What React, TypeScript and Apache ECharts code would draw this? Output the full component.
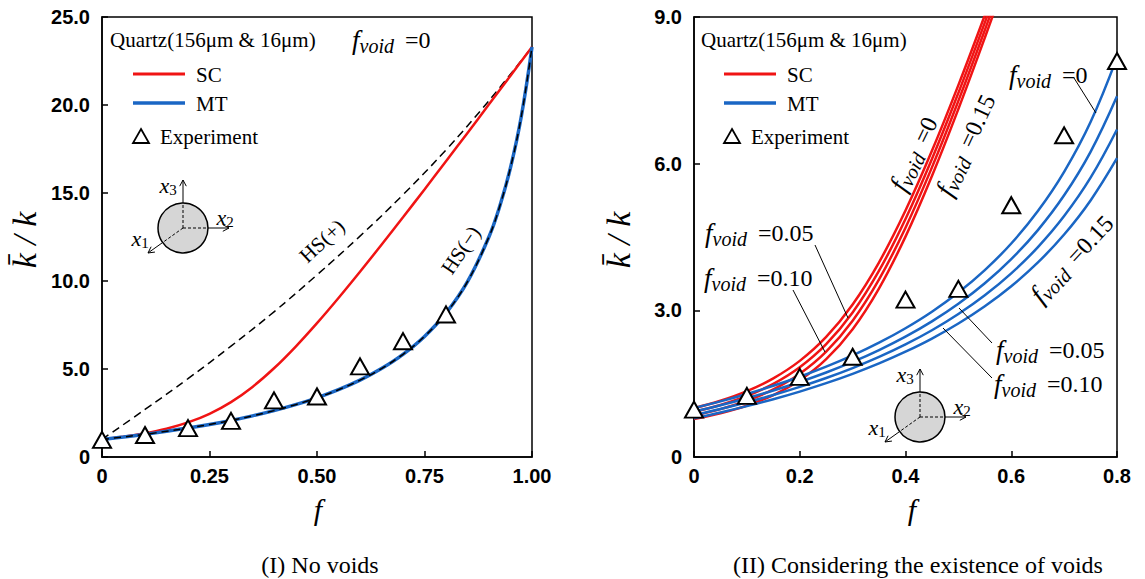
import React, { useEffect, useRef } from "react";
import * as echarts from "echarts";

// ---------- Data ----------
// Panel I: no voids
const fSC = [0, 0.05, 0.1, 0.15, 0.2, 0.25, 0.3, 0.35, 0.4, 0.45, 0.5, 0.55, 0.6, 0.65, 0.7, 0.75, 0.8, 0.85, 0.9, 0.95, 1.0];
const scNoVoid = [1.0, 1.15, 1.347, 1.609, 1.966, 2.456, 3.12, 3.983, 5.041, 6.263, 7.607, 9.037, 10.527, 12.059, 13.62, 15.204, 16.803, 18.415, 20.036, 21.665, 23.3];
const fMT = [0, 0.05, 0.1, 0.15, 0.2, 0.25, 0.3, 0.35, 0.4, 0.45, 0.5, 0.55, 0.6, 0.65, 0.7, 0.75, 0.8, 0.85, 0.9, 0.925, 0.95, 0.975, 1.0];
const mtNoVoid = [1.0, 1.138, 1.29, 1.457, 1.642, 1.848, 2.078, 2.338, 2.634, 2.972, 3.364, 3.823, 4.367, 5.025, 5.833, 6.851, 8.174, 9.962, 12.512, 14.244, 16.445, 19.335, 23.3];
const fHS = [0, 0.1, 0.2, 0.3, 0.4, 0.5, 0.6, 0.7, 0.8, 0.9, 1.0];
const hsUpper = [1.0, 2.7, 4.45, 6.3, 8.25, 10.35, 12.55, 14.9, 17.45, 20.25, 23.3];

// Experiment (both panels)
const fExp = [0, 0.1, 0.2, 0.3, 0.4, 0.5, 0.6, 0.7, 0.8];
const kExp = [0.97, 1.25, 1.64, 2.05, 3.22, 3.44, 5.15, 6.58, 8.1];

// Panel II: with voids (f_void = 0, 0.05, 0.10, 0.15)
const fMTv = [0, 0.05, 0.1, 0.15, 0.2, 0.25, 0.3, 0.35, 0.4, 0.45, 0.5, 0.55, 0.6, 0.65, 0.7, 0.75, 0.8];
const mtVoid0 = [1.0, 1.138, 1.29, 1.457, 1.642, 1.848, 2.078, 2.338, 2.634, 2.972, 3.364, 3.823, 4.367, 5.025, 5.833, 6.851, 8.174];
const mtVoid05 = [0.927, 1.058, 1.202, 1.36, 1.535, 1.728, 1.944, 2.187, 2.461, 2.774, 3.134, 3.553, 4.047, 4.636, 5.353, 6.243, 7.379];
const mtVoid10 = [0.857, 0.982, 1.119, 1.269, 1.434, 1.616, 1.819, 2.046, 2.302, 2.592, 2.924, 3.308, 3.757, 4.288, 4.928, 5.713, 6.699];
const mtVoid15 = [0.791, 0.91, 1.04, 1.182, 1.338, 1.51, 1.701, 1.914, 2.153, 2.422, 2.73, 3.083, 3.493, 3.975, 4.55, 5.248, 6.111];

const fSCv = [0, 0.05, 0.1, 0.15, 0.2, 0.25, 0.3, 0.35, 0.4, 0.45, 0.5, 0.55, 0.6];
const scVoid0 = [1.0, 1.15, 1.347, 1.609, 1.966, 2.456, 3.12, 3.983, 5.041, 6.263, 7.607, 9.037, 10.527];
const scVoid05 = [0.925, 1.065, 1.249, 1.496, 1.836, 2.308, 2.956, 3.811, 4.868, 6.096, 7.447, 8.885, 10.383];
const scVoid10 = [0.85, 0.98, 1.151, 1.382, 1.703, 2.156, 2.788, 3.633, 4.691, 5.924, 7.284, 8.732, 10.237];
const scVoid15 = [0.775, 0.894, 1.052, 1.267, 1.569, 2.001, 2.614, 3.45, 4.508, 5.748, 7.118, 8.575, 10.09];

// Tick labels
const xLabelsI = ["0", "0.25", "0.50", "0.75", "1.00"];
const yLabelsI = ["0", "5.0", "10.0", "15.0", "20.0", "25.0"];
const xLabelsII = ["0", "0.2", "0.4", "0.6", "0.8"];
const yLabelsII = ["0", "3.0", "6.0", "9.0"];

// ---------- Styling ----------
const RED = "#f01414";
const BLUE = "#1a66c4";
const SERIF = "Liberation Serif, Times New Roman, serif";
const SANS = "Liberation Sans, Arial, sans-serif";

const pairs = (xs: number[], ys: number[]) => xs.map((x, i) => [x, ys[i]]);

function makeAxis(grid: number, max: number, interval: number, labels: string[], isX: boolean) {
  return {
    type: "value",
    gridIndex: grid,
    min: 0,
    max,
    interval,
    axisLine: { show: true, onZero: false, lineStyle: { color: "#000", width: 1.5 } },
    axisTick: { show: true, inside: true, length: 6, lineStyle: { color: "#000", width: 1.5 } },
    splitLine: { show: false },
    axisLabel: {
      color: "#000",
      fontFamily: SANS,
      fontWeight: "bold",
      fontSize: 20,
      margin: isX ? 9 : 12,
      formatter: (v: number) => labels[Math.round(v / interval)] ?? "",
    },
  };
}

function lineSeries(xi: number, data: number[][], color: string, width: number, extra: any = {}) {
  return {
    type: "line",
    xAxisIndex: xi,
    yAxisIndex: xi,
    data,
    smooth: 0.4,
    symbol: "none",
    clip: true,
    lineStyle: { color, width, ...(extra.lineStyle || {}) },
    z: extra.z ?? 3,
    silent: true,
  };
}

function expSeries(xi: number) {
  return {
    type: "scatter",
    xAxisIndex: xi,
    yAxisIndex: xi,
    data: pairs(fExp, kExp),
    symbol: "triangle",
    symbolSize: [18, 16],
    itemStyle: { color: "#fff", borderColor: "#000", borderWidth: 2, opacity: 1 },
    z: 10,
    silent: true,
  };
}

const fvRich = {
  f: { fontFamily: SERIF, fontStyle: "italic", fontSize: 27, fill: "#000" },
  s: { fontFamily: SERIF, fontStyle: "italic", fontSize: 20, fill: "#000", padding: [11, 0, 0, 0] },
  e: { fontFamily: SERIF, fontSize: 24, fill: "#000", padding: [0, 0, 0, 5] },
};

function fvText(val: string, x: number, y: number, rotDeg = 0, align = "left") {
  return {
    type: "text",
    x,
    y,
    rotation: (rotDeg * Math.PI) / 180,
    z: 20,
    style: {
      text: `{f|f}{s|void}{e| =${val}}`,
      rich: fvRich,
      align,
      verticalAlign: "middle",
    },
  };
}

function plainText(text: string, x: number, y: number, size: number, opts: any = {}) {
  return {
    type: "text",
    x,
    y,
    rotation: ((opts.rot || 0) * Math.PI) / 180,
    z: 20,
    style: {
      text,
      fontFamily: opts.family || SERIF,
      fontSize: size,
      fontStyle: opts.italic ? "italic" : "normal",
      fill: "#000",
      align: opts.align || "left",
      verticalAlign: "middle",
    },
  };
}

function seg(x1: number, y1: number, x2: number, y2: number, w = 1, dash?: number[]) {
  return {
    type: "line",
    z: 20,
    shape: { x1, y1, x2, y2 },
    style: { stroke: "#000", lineWidth: w, lineDash: dash },
  };
}

function arrowHead(x1: number, y1: number, x2: number, y2: number) {
  const ang = Math.atan2(y2 - y1, x2 - x1);
  const L = 7;
  const a = (28 * Math.PI) / 180;
  return {
    type: "polyline",
    z: 20,
    shape: {
      points: [
        [x2 - L * Math.cos(ang - a), y2 - L * Math.sin(ang - a)],
        [x2, y2],
        [x2 - L * Math.cos(ang + a), y2 - L * Math.sin(ang + a)],
      ],
    },
    style: { stroke: "#000", lineWidth: 1, fill: "none" },
  };
}

function subText(main: string, sub: string, x: number, y: number) {
  return {
    type: "text",
    x,
    y,
    z: 20,
    style: {
      text: `{a|${main}}{b|${sub}}`,
      rich: {
        a: { fontFamily: SERIF, fontStyle: "italic", fontSize: 22, fill: "#000" },
        b: { fontFamily: SERIF, fontSize: 15, fill: "#000", padding: [9, 0, 0, 0] },
      },
      align: "center",
      verticalAlign: "middle",
    },
  };
}

function inset(cx: number, cy: number) {
  const r = 25;
  const ux = -0.814, uy = 0.581;
  const dash = [3, 2];
  return [
    { type: "circle", z: 19, shape: { cx, cy, r }, style: { fill: "#d6d6d6", stroke: "#000", lineWidth: 1.5 } },
    seg(cx, cy, cx, cy - r, 1, dash),
    seg(cx, cy, cx + r, cy, 1, dash),
    seg(cx, cy, cx + ux * r, cy + uy * r, 1, dash),
    seg(cx, cy - r, cx, cy - 48, 1),
    seg(cx + r, cy, cx + 46, cy, 1),
    seg(cx + ux * r, cy + uy * r, cx + ux * 43, cy + uy * 43, 1),
    arrowHead(cx, cy, cx, cy - 48),
    arrowHead(cx, cy, cx + 46, cy),
    arrowHead(cx, cy, cx + ux * 43, cy + uy * 43),
    subText("x", "3", cx - 15, cy - 43),
    subText("x", "2", cx + 42, cy - 11),
    subText("x", "1", cx - 43, cy + 10),
  ];
}

function legend(x0: number, quartzX: number) {
  return [
    plainText("Quartz(156μm & 16μm)", quartzX, 40, 21),
    { type: "line", z: 20, shape: { x1: x0, y1: 74, x2: x0 + 52, y2: 74 }, style: { stroke: RED, lineWidth: 3 } },
    plainText("SC", x0 + 63, 75, 21),
    { type: "line", z: 20, shape: { x1: x0, y1: 103, x2: x0 + 52, y2: 103 }, style: { stroke: BLUE, lineWidth: 3.5 } },
    plainText("MT", x0 + 63, 104, 21),
    {
      type: "polygon",
      z: 20,
      shape: { points: [[x0 + 8, 129], [x0 + 16, 143], [x0, 143]] },
      style: { fill: "#fff", stroke: "#000", lineWidth: 1.8 },
    },
    plainText("Experiment", x0 + 27, 137, 21),
  ];
}

export default function App() {
  const ref = useRef<HTMLDivElement>(null);

  useEffect(() => {
    if (!ref.current) return;
    const chart = echarts.init(ref.current, undefined, { renderer: "svg" });

    const option: any = {
      animation: false,
      backgroundColor: "#fff",
      grid: [
        { left: 102, top: 17, width: 430, height: 440, show: true, borderColor: "#000", borderWidth: 1.5, backgroundColor: "transparent" },
        { left: 694, top: 17, width: 423, height: 440, show: true, borderColor: "#000", borderWidth: 1.5, backgroundColor: "transparent" },
      ],
      xAxis: [makeAxis(0, 1, 0.25, xLabelsI, true), makeAxis(1, 0.8, 0.2, xLabelsII, true)],
      yAxis: [makeAxis(0, 25, 5, yLabelsI, false), makeAxis(1, 9, 3, yLabelsII, false)],
      series: [
        // Panel I
        lineSeries(0, pairs(fHS, hsUpper), "#000", 1.5, { lineStyle: { type: [8, 5] }, z: 2 }),
        lineSeries(0, pairs(fSC, scNoVoid), RED, 2.5),
        lineSeries(0, pairs(fMT, mtNoVoid), BLUE, 3.5),
        lineSeries(0, pairs(fMT, mtNoVoid), "#000", 1.5, { lineStyle: { type: [7, 5] }, z: 4 }),
        expSeries(0),
        // Panel II
        lineSeries(1, pairs(fSCv, scVoid0), RED, 2.5),
        lineSeries(1, pairs(fSCv, scVoid05), RED, 2.5),
        lineSeries(1, pairs(fSCv, scVoid10), RED, 2.5),
        lineSeries(1, pairs(fSCv, scVoid15), RED, 2.5),
        lineSeries(1, pairs(fMTv, mtVoid0), BLUE, 2.5, { z: 4 }),
        lineSeries(1, pairs(fMTv, mtVoid05), BLUE, 2.5, { z: 4 }),
        lineSeries(1, pairs(fMTv, mtVoid10), BLUE, 2.5, { z: 4 }),
        lineSeries(1, pairs(fMTv, mtVoid15), BLUE, 2.5, { z: 4 }),
        expSeries(1),
      ],
      graphic: [
        // Panel I texts
        ...legend(133, 110),
        fvText("0", 352, 40),
        ...inset(183, 228),
        plainText("HS(+)", 322, 241, 21, { rot: 43, align: "center" }),
        plainText("HS(−)", 461, 250, 21, { rot: 56, align: "center" }),
        plainText("k̄ / k", 24, 240, 34, { rot: 90, italic: true, align: "center" }),
        plainText("f", 318, 509, 30, { italic: true, align: "center" }),
        plainText("(I) No voids", 320, 565, 24, { align: "center" }),
        // Panel II texts
        ...legend(724, 701),
        ...inset(920, 417),
        fvText("0", 914, 154, 64, "center"),
        fvText("0.15", 966, 145, 65, "center"),
        fvText("0.05", 705, 233),
        fvText("0.10", 704, 278),
        seg(815, 245, 848, 318),
        seg(793, 290, 825, 352),
        fvText("0", 1009, 75),
        seg(1074, 78, 1096, 113),
        fvText("0.15", 1072, 259, 47, "center"),
        fvText("0.05", 996, 350),
        seg(959, 308, 992, 343),
        fvText("0.10", 994, 384),
        seg(943, 328, 992, 378),
        plainText("k̄ / k", 618, 240, 34, { rot: 90, italic: true, align: "center" }),
        plainText("f", 912, 509, 30, { italic: true, align: "center" }),
        plainText("(II) Considering the existence of voids", 918, 565, 24, { align: "center" }),
      ],
    };

    chart.setOption(option);
    return () => chart.dispose();
  }, []);

  return (
    <div
      ref={ref}
      style={{ position: "fixed", left: 0, top: 0, width: 1145, height: 579, background: "#fff" }}
    />
  );
}
